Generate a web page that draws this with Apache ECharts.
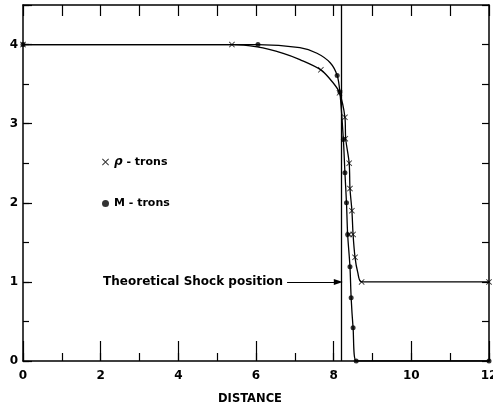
<!DOCTYPE html>
<html><head><meta charset="utf-8">
<script src="https://cdn.jsdelivr.net/npm/echarts@6/dist/echarts.min.js"></script>
<style>html,body{margin:0;padding:0;background:#fff}#c{width:493px;height:409px}</style>
</head><body><div id="c"></div>
<script>
// Data
const xTickLabels = ['0','2','4','6','8','10','12'];
const yTickLabels = ['0','1','2','3','4'];
// rho-trons markers (x) and curve through them
const rhoPoints = [[0,4],[5.38,4],[7.67,3.68],[8.15,3.39],[8.29,3.08],[8.3,2.81],[8.4,2.5],[8.42,2.18],[8.47,1.9],[8.4,1.6],[8.5,1.6],[8.55,1.31],[8.72,1.0],[12,1]];
const rhoCurve = [[0,4],[5.38,4],[6.03,3.97],[6.7,3.89],[7.13,3.81],[7.67,3.68],[7.98,3.52],[8.15,3.39],[8.29,3.08],[8.31,2.81],[8.4,2.5],[8.42,2.18],[8.47,1.9],[8.5,1.6],[8.55,1.31],[8.62,1.12],[8.72,1.0],[12,1]];
// M-trons markers (dots) and curve through them
const mPoints = [[0,4],[6.05,4],[8.09,3.61],[8.16,3.4],[8.25,2.8],[8.29,2.38],[8.33,2.0],[8.36,1.6],[8.42,1.19],[8.45,0.8],[8.5,0.42],[8.58,0],[12,0]];
const mCurve = [[0,4],[6.05,4],[7.13,3.96],[7.57,3.89],[7.91,3.77],[8.09,3.61],[8.16,3.4],[8.25,2.8],[8.29,2.38],[8.33,2.0],[8.36,1.6],[8.42,1.19],[8.45,0.8],[8.5,0.42],[8.58,0],[12,0]];
const shockX = 8.2;
const arrowFrom = [6.8, 1];
const arrowTo = [8.12, 1];

const FONT = 'DejaVu Sans';
const crossPath = 'path://M0,1L1,0L5,4L9,0L10,1L6,5L10,9L9,10L5,6L1,10L0,9L4,5Z';
const axisLineStyle = {onZero:false,lineStyle:{color:'#000',width:1.5}};
const noLine = {show:false,onZero:false};
const tickStyle = {color:'#000',width:1.2};
const gridBox = {left:23,right:4,top:5,bottom:48,containLabel:false,outerBoundsMode:'none'};
const chart = echarts.init(document.getElementById('c'));
chart.setOption({
  animation:false,
  grid:[Object.assign({},gridBox), Object.assign({},gridBox)],
  legend:{
    orient:'vertical', left:97, top:151, itemGap:30, itemWidth:7, itemHeight:7,
    data:['rho','M'],
    formatter:function(n){return n==='rho'?'{i|ρ} {t|- trons}':'{t|M - trons}';},
    textStyle:{fontFamily:FONT,fontWeight:'bold',fontSize:11,color:'#000',
      rich:{i:{fontStyle:'italic',fontSize:12,fontFamily:FONT,color:'#000'},t:{fontFamily:FONT,fontWeight:'bold',fontSize:11,color:'#000'}}}
  },
  xAxis:[{
    gridIndex:0,type:'value',min:0,max:12,interval:2,position:'bottom',
    name:'DISTANCE',nameLocation:'middle',nameGap:32,
    nameTextStyle:{fontFamily:FONT,fontWeight:'bold',fontSize:11.5,color:'#000',padding:[0,12,0,0]},
    axisLine:axisLineStyle,
    axisTick:{inside:true,length:20,lineStyle:tickStyle},
    axisLabel:{margin:9,fontFamily:FONT,fontWeight:'bold',fontSize:12,color:'#000',
      formatter:function(v){return xTickLabels[Math.round(v/2)];}},
    splitLine:{show:false}
  },{
    gridIndex:0,type:'value',min:0,max:12,interval:1,position:'top',
    axisLine:axisLineStyle,
    axisTick:{inside:true,length:11,lineStyle:tickStyle},
    axisLabel:{show:false},splitLine:{show:false}
  },{
    gridIndex:1,type:'value',min:0,max:12,interval:1,position:'bottom',
    axisLine:noLine,
    axisTick:{inside:true,length:8,lineStyle:tickStyle},
    axisLabel:{show:false},splitLine:{show:false}
  }],
  yAxis:[{
    gridIndex:0,type:'value',min:0,max:4.5,interval:1,position:'left',
    axisLine:axisLineStyle,
    axisTick:{inside:true,length:9,lineStyle:tickStyle},
    axisLabel:{margin:5,fontFamily:FONT,fontWeight:'bold',fontSize:12,color:'#000',
      formatter:function(v){return v<=4?yTickLabels[Math.round(v)]:'';}},
    splitLine:{show:false}
  },{
    gridIndex:0,type:'value',min:0,max:4.5,interval:0.5,position:'right',
    axisLine:axisLineStyle,
    axisTick:{inside:true,length:7,lineStyle:tickStyle},
    axisLabel:{show:false},splitLine:{show:false}
  },{
    gridIndex:1,type:'value',min:0,max:4.5,interval:0.5,position:'left',
    axisLine:noLine,
    axisTick:{inside:true,length:6,lineStyle:tickStyle},
    axisLabel:{show:false},splitLine:{show:false}
  }],
  series:[
    {type:'line',name:'rhoCurve',xAxisIndex:0,yAxisIndex:0,data:rhoCurve,smooth:0.3,symbol:'none',
      lineStyle:{color:'#000',width:1.3},
      markLine:{silent:true,symbol:['none','none'],
        lineStyle:{color:'#000',width:1.3,type:'solid'},label:{show:false},
        data:[{xAxis:shockX}]}},
    {type:'line',name:'mCurve',xAxisIndex:0,yAxisIndex:0,data:mCurve,smooth:0.3,symbol:'none',
      lineStyle:{color:'#000',width:1.3},
      markLine:{silent:true,symbol:['none','triangle'],symbolSize:[6,9],
        lineStyle:{color:'#000',width:1.1,type:'solid'},
        label:{show:true,position:'start',distance:4,formatter:'Theoretical Shock position',
          fontFamily:FONT,fontWeight:'bold',fontSize:12,color:'#000'},
        data:[[{coord:arrowFrom},{coord:arrowTo}]]}},
    {type:'scatter',name:'rho',xAxisIndex:0,yAxisIndex:0,data:rhoPoints,symbol:crossPath,symbolSize:6,
      itemStyle:{color:'#000'}},
    {type:'scatter',name:'M',xAxisIndex:0,yAxisIndex:0,data:mPoints,symbol:'circle',symbolSize:5,
      itemStyle:{color:'#000'}}
  ]
});
</script></body></html>
